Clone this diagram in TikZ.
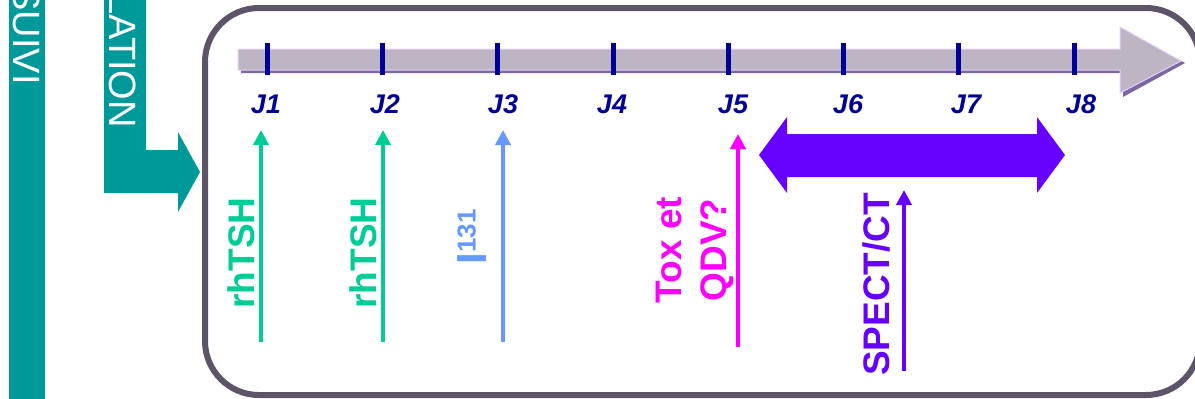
\documentclass[tikz,border=0pt]{standalone}
\usepackage{fontspec}
\setmainfont{Liberation Sans}
\usetikzlibrary{arrows.meta}
\definecolor{teal1}{RGB}{0,153,153}
\definecolor{frameC}{RGB}{94,84,104}
\definecolor{barC}{RGB}{189,180,196}
\definecolor{barShadow}{RGB}{124,104,158}
\definecolor{barLight}{RGB}{226,208,255}
\definecolor{navy}{RGB}{0,0,153}
\definecolor{greenT}{RGB}{0,204,150}
\definecolor{blueI}{RGB}{102,153,255}
\definecolor{magT}{RGB}{255,0,255}
\definecolor{purpT}{RGB}{102,0,255}
\begin{document}
\begin{tikzpicture}[x=1pt,y=-1pt,
  sidetxt/.style={text=white,inner sep=0pt,rotate=-90,anchor=east,font=\fontsize{38}{40}\selectfont},
  daylbl/.style={text=navy,inner sep=0pt,font=\fontsize{27}{29}\selectfont\bfseries\itshape},
  tickmark/.style={draw=navy,line width=5pt},
  vlbl/.style={inner sep=0pt,rotate=90,font=\fontsize{37}{45}\selectfont\bfseries,align=center},
  uparrow/.style={line width=4pt,-{Triangle[width=15pt,length=15pt]}}]
\useasboundingbox (0,0) rectangle (1195,399);
\clip (0,0) rectangle (1195,399);
\fill[white] (0,0) rectangle (1195,399);
% left teal bars
\fill[teal1] (9,0) rectangle (45,399);
\node[sidetxt] (suivi) at (27,85) {SUIVI};
\fill[teal1] (104,0) -- (146,0) -- (146,150) -- (178,150) -- (178,132) -- (200,172) -- (178,212) -- (178,193) -- (104,193) -- cycle;
\node[sidetxt] (lation) at (123,128) {LATION};
% frame
\draw[frameC,line width=6pt,rounded corners=54pt] (205,8) rectangle (1200,395);
% timeline bar
\fill[barShadow] (241,52) -- (1123,52) -- (1123,30) -- (1185,63) -- (1123,97) -- (1123,73) -- (241,73) -- cycle;
\filldraw[fill=barC,draw=barLight,line width=1pt] (238,49) -- (1120,49) -- (1120,27) -- (1181,61) -- (1120,93) -- (1120,70) -- (238,70) -- cycle;
% ticks and labels
\foreach \x/\lx/\n in {267/266/1,382/385/2,497/503/3,613/612/4,728/733/5,843/848/6,958/966/7,1074/1081/8}{
  \draw[tickmark] (\x,43) -- (\x,75);
  \node[daylbl] (J\n) at (\lx,104) {J\n};
}
% vertical arrows
\coordinate (a1s) at (261,342); \coordinate (a1e) at (261,130);
\coordinate (a2s) at (383,342); \coordinate (a2e) at (383,130);
\coordinate (a3s) at (503,342); \coordinate (a3e) at (503,130);
\coordinate (a4s) at (738,347); \coordinate (a4e) at (738,134);
\coordinate (a5s) at (904,371); \coordinate (a5e) at (904,190);
\draw[uparrow,greenT] (a1s) -- (a1e);
\draw[uparrow,greenT] (a2s) -- (a2e);
\draw[uparrow,blueI] (a3s) -- (a3e);
\draw[uparrow,magT] (a4s) -- (a4e);
\draw[uparrow,purpT] (a5s) -- (a5e);
% labels
\node[vlbl,text=greenT] (t1) at (241.5,253) {rhTSH};
\node[vlbl,text=greenT] (t2) at (363,253) {rhTSH};
\node[vlbl,text=blueI] (t3) at (472,237) {\fontsize{42}{45}\selectfont I\raisebox{11pt}{\fontsize{26}{28}\selectfont 131}};
\node[vlbl,text=magT] (t4) at (695,250) {Tox et\\QDV?};
\node[vlbl,text=purpT] (t5) at (876,284.5) {SPECT/CT};
% big double arrow
\fill[purpT] (759,155) -- (787,117) -- (787,134) -- (1037,134) -- (1037,117) -- (1065,155) -- (1037,193) -- (1037,177) -- (787,177) -- (787,193) -- cycle;
\end{tikzpicture}
\end{document}
